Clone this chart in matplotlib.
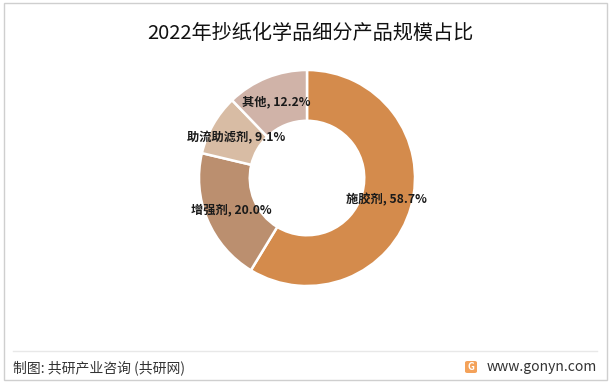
import matplotlib
matplotlib.use("Agg")
import matplotlib.pyplot as plt
from matplotlib.patches import Rectangle, FancyBboxPatch
from matplotlib.lines import Line2D

plt.rcParams['font.family'] = ['Noto Sans CJK SC', 'DejaVu Sans']

title = "2022年抄纸化学品细分产品规模占比"
categories = ["施胶剂", "增强剂", "助流助滤剂", "其他"]
values = [58.7, 20.0, 9.1, 12.2]
colors = ["#D48B4C", "#BB8F6F", "#D8BCA4", "#D0B3A8"]
source = "制图: 共研产业咨询 (共研网)"
site = "www.gonyn.com"

W, H = 615, 386
fig = plt.figure(figsize=(W / 100, H / 100), dpi=100)

cx, cy, R = 307, 386 - 178, 108
ax = fig.add_axes([(cx - R) / W, (cy - R) / H, 2 * R / W, 2 * R / H])
labels = [f"{c}, {v:.1f}%" for c, v in zip(categories, values)]
wedges, texts = ax.pie(values, colors=colors, startangle=90, counterclock=False,
                       radius=1.0, labels=labels, labeldistance=0.76,
                       wedgeprops=dict(width=0.47, edgecolor="white", linewidth=1.8),
                       textprops=dict(fontsize=8.8, fontweight="bold", color="#1a1a1a"))
for t in texts:
    t.set_ha("center")
    t.set_va("center")
ax.set_xlim(-1, 1)
ax.set_ylim(-1, 1)
ax.set_aspect("equal")
ax.axis("off")

fig.text(0.5 + 3 / W, 1 - 33 / H, title, ha="center", va="center", fontsize=14.5, color="#111111")

# frame and separator
fig.patches.append(Rectangle((4 / W, 1 - 380 / H), 603 / W, 377 / H, transform=fig.transFigure,
                             fill=False, edgecolor="#cfcfcf", linewidth=1))
fig.lines.append(Line2D([13 / W, 597 / W], [1 - 351 / H, 1 - 351 / H], transform=fig.transFigure,
                        color="#e8e8e8", linewidth=1))

fig.text(13 / W, 1 - 368 / H, source, ha="left", va="center", fontsize=10, color="#333333")
fig.patches.append(FancyBboxPatch((465 / W, 1 - 373 / H), 12 / W, 12 / H, transform=fig.transFigure,
                                  boxstyle="round,pad=0,rounding_size=0.004",
                                  facecolor="#F4A25A", edgecolor="none"))
fig.text(471 / W, 1 - 367 / H, "G", ha="center", va="center", fontsize=7, color="white", fontweight="bold")
fig.text(597 / W, 1 - 367 / H, site, ha="right", va="center", fontsize=10, color="#333333")

fig.savefig("out.png", dpi=100)
